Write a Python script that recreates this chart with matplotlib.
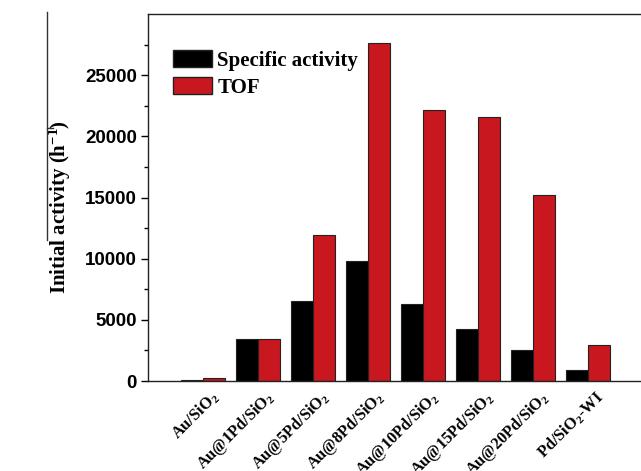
import numpy as np
import matplotlib
matplotlib.use("Agg")
import matplotlib.pyplot as plt
from matplotlib.lines import Line2D
from matplotlib.patches import Patch
import matplotlib.transforms as mtransforms

plt.rcParams['mathtext.fontset'] = 'custom'
plt.rcParams['mathtext.rm'] = 'Liberation Serif:bold'
plt.rcParams['mathtext.it'] = 'Liberation Serif:bold:italic'
plt.rcParams['mathtext.bf'] = 'Liberation Serif:bold'

# catalysts and initial activities (h^-1)
catalysts = ['Au/SiO$_2$', 'Au@1Pd/SiO$_2$', 'Au@5Pd/SiO$_2$', 'Au@8Pd/SiO$_2$',
             'Au@10Pd/SiO$_2$', 'Au@15Pd/SiO$_2$', 'Au@20Pd/SiO$_2$', 'Pd/SiO$_2$-WI']
specific_activity = [80, 3400, 6550, 9850, 6280, 4250, 2500, 900]
tof = [280, 3400, 11950, 27650, 22200, 21600, 15200, 2980]

x = np.arange(len(catalysts))
width = 0.4

fig = plt.figure(figsize=(6.41, 4.71), dpi=100)
ax = fig.add_axes([0.2309, 0.191, 0.772, 0.779])

ax.bar(x - width / 2, specific_activity, width, color='black', edgecolor='#222222', linewidth=0.8)
ax.bar(x + width / 2, tof, width, color='#c8171e', edgecolor='#222222', linewidth=0.8)

ax.set_xlim(-1, 8)
ax.set_ylim(0, 30000)
ax.set_yticks([0, 5000, 10000, 15000, 20000, 25000])
ax.set_yticks(np.arange(2500, 30000, 5000), minor=True)
ax.tick_params(axis='y', which='major', direction='out', length=5, width=1,
               labelsize=13.5, pad=3)
ax.tick_params(axis='y', which='minor', direction='out', length=3, width=1)
for lab in ax.get_yticklabels():
    lab.set_fontfamily('Liberation Sans')
    lab.set_fontweight('bold')

ax.set_xticks(x)
ax.set_xticklabels(catalysts, rotation=45, ha='right', rotation_mode='anchor',
                   fontsize=11.8, fontfamily='Liberation Serif', fontweight='bold')
ax.tick_params(axis='x', length=0, pad=5)
offset = mtransforms.ScaledTranslation(5 / 72, 0, fig.dpi_scale_trans)
for lab in ax.get_xticklabels():
    lab.set_transform(lab.get_transform() + offset)

for s in ax.spines.values():
    s.set_linewidth(1.0)
    s.set_color('#222222')

ax.set_ylabel('Initial activity (h$^{-1}$)', fontsize=15,
              fontfamily='Liberation Serif', fontweight='bold')
ax.yaxis.set_label_coords(-0.151, 0.474)

handles = [Patch(facecolor='black', edgecolor='#222222'),
           Patch(facecolor='#c8171e', edgecolor='#222222')]
ax.legend(handles, ['Specific activity', 'TOF'], loc='upper left',
          bbox_to_anchor=(0.034, 0.926), borderaxespad=0, frameon=False,
          handlelength=1.87, handleheight=0.91, handletextpad=0.25,
          labelspacing=0.3,
          prop={'family': 'Liberation Serif', 'weight': 'bold', 'size': 15})

# stray vertical rule at the left margin
fig.add_artist(Line2D([47 / 641, 47 / 641], [1 - 12 / 471, 1 - 240 / 471],
                      color='#333333', linewidth=1))
fig.add_artist(Line2D([47 / 641, 53 / 641], [1 - 128 / 471, 1 - 128 / 471],
                      color='#333333', linewidth=1))

fig.savefig('out.png', dpi=100)
